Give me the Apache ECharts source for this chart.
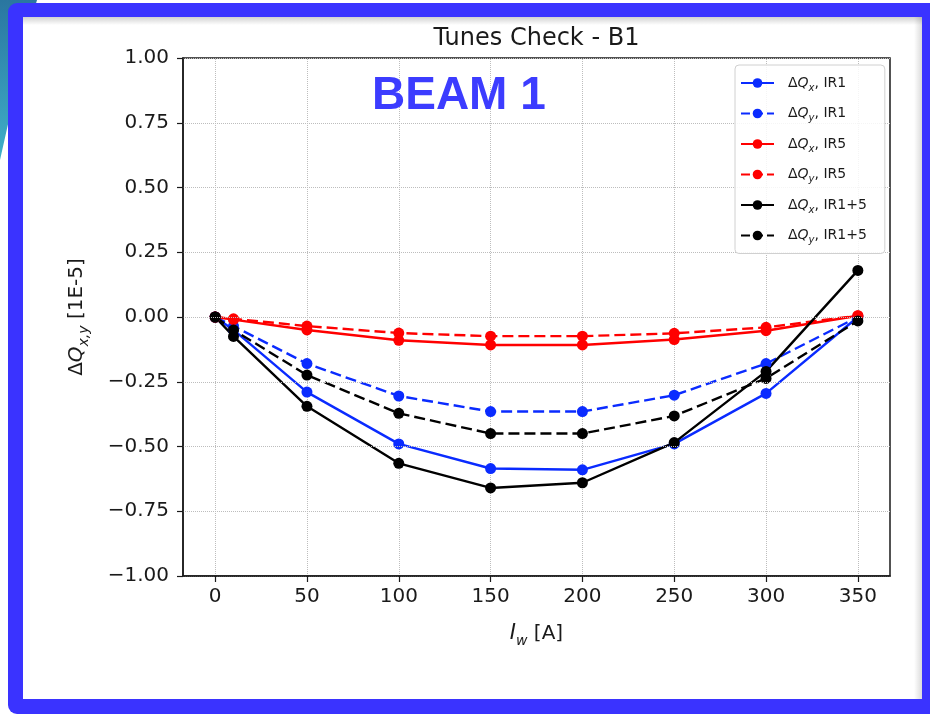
<!DOCTYPE html>
<html>
<head>
<meta charset="utf-8">
<script src="https://cdn.jsdelivr.net/npm/echarts@6/dist/echarts.min.js"></script>
<style>
html,body{margin:0;padding:0;background:#fff;}
#c{width:930px;height:715px;}
</style>
</head>
<body>
<div id="c"></div>
<script>
// ---- data ----
const currents = [0, 10, 50, 100, 150, 200, 250, 300, 350];
const dQx_IR1  = [0, -0.05, -0.29, -0.49, -0.585, -0.59, -0.49, -0.295, 0.0];
const dQy_IR1  = [0, -0.035, -0.18, -0.305, -0.365, -0.365, -0.302, -0.18, 0.0];
const dQx_IR5  = [0, -0.01, -0.05, -0.09, -0.108, -0.108, -0.087, -0.053, 0.005];
const dQy_IR5  = [0, -0.007, -0.035, -0.062, -0.074, -0.074, -0.063, -0.04, 0.005];
const dQx_IR15 = [0, -0.075, -0.345, -0.565, -0.66, -0.64, -0.485, -0.21, 0.18];
const dQy_IR15 = [0, -0.05, -0.224, -0.372, -0.45, -0.45, -0.382, -0.237, -0.015];
const xTicks = [0, 50, 100, 150, 200, 250, 300, 350];
const seriesNames = ['dQx_IR1', 'dQy_IR1', 'dQx_IR5', 'dQy_IR5', 'dQx_IR15', 'dQy_IR15'];
const dashedNames = ['dQy_IR1', 'dQy_IR5', 'dQy_IR15'];
const legendLabels = {
  dQx_IR1: ['x', ', IR1'], dQy_IR1: ['y', ', IR1'],
  dQx_IR5: ['x', ', IR5'], dQy_IR5: ['y', ', IR5'],
  dQx_IR15: ['x', ', IR1+5'], dQy_IR15: ['y', ', IR1+5']
};

const FONT = '"DejaVu Sans", sans-serif';
const FRAME = '#3a33ff';
const INK = '#1a1a1a';

function pairs(ys) { return currents.map((x, i) => [x, ys[i]]); }

function mkSeries(name, ys, color, dashed) {
  return {
    name: name, type: 'line', data: pairs(ys), z: 5,
    symbol: 'circle', symbolSize: 11, showSymbol: true,
    lineStyle: { color: color, width: 2.4, type: dashed ? [11, 5] : 'solid' },
    itemStyle: { color: color },
    emphasis: { disabled: true },
    animation: false
  };
}

const chart = echarts.init(document.getElementById('c'), null, { renderer: 'canvas' });

const option = {
  animation: false,
  graphic: [
    { type: 'polygon', z: -10, shape: { points: [[0,0],[37,0],[32,17],[0,160]] },
      style: { fill: new echarts.graphic.LinearGradient(0,0,0,1,[{offset:0,color:'#2a76a0'},{offset:1,color:'#3fb0c8'}]) } },
    { type: 'rect', z: -9, shape: { x: 8, y: 3, width: 940, height: 711, r: 9 }, style: { fill: FRAME } },
    { type: 'rect', z: -8, shape: { x: 23, y: 17, width: 899, height: 682 }, style: { fill: '#ffffff' } },
    { type: 'rect', z: -7, shape: { x: 23, y: 17, width: 899, height: 8 },
      style: { fill: new echarts.graphic.LinearGradient(0,0,0,1,[{offset:0,color:'rgba(0,0,0,0.18)'},{offset:1,color:'rgba(0,0,0,0)'}]) } },
    { type: 'rect', z: -7, shape: { x: 914, y: 17, width: 8, height: 682 },
      style: { fill: new echarts.graphic.LinearGradient(0,0,1,0,[{offset:0,color:'rgba(0,0,0,0)'},{offset:1,color:'rgba(0,0,0,0.14)'}]) } },
    { type: 'text', z: 50, x: 536.5, y: 38.5,
      style: { text: 'Tunes Check - B1', font: '24px ' + FONT, fill: INK, align: 'center', verticalAlign: 'middle' } },
    { type: 'text', z: 100, x: 372, y: 96.5,
      style: { text: 'BEAM 1', font: 'bold 46px "Liberation Sans", Arial, sans-serif', fill: '#3c3cff', align: 'left', verticalAlign: 'middle' } }
  ],
  grid: {
    left: 183, top: 58, width: 707, height: 518, z: 10,
    show: true, borderColor: INK, borderWidth: 1.5, backgroundColor: 'transparent'
  },
  legend: {
    orient: 'vertical', left: 735, top: 65, z: 20,
    data: seriesNames.map(n => dashedNames.indexOf(n) >= 0
      ? { name: n, lineStyle: { type: [9, 4] } }
      : { name: n }),
    itemWidth: 33, itemHeight: 12, itemGap: 10.5,
    padding: [8, 18, 8, 5],
    backgroundColor: 'rgba(255,255,255,0.85)',
    borderColor: '#d0d0d0', borderWidth: 1, borderRadius: 4,
    selectedMode: false,
    formatter: function (n) {
      const l = legendLabels[n];
      return '{m|\u0394}{q|Q}{s|' + l[0] + '}{t|' + l[1] + '}';
    },
    textStyle: {
      fontFamily: FONT, color: INK, fontSize: 14, lineHeight: 20,
      rich: {
        m: { fontFamily: FONT, fontSize: 14, color: INK, padding: [0, 0, 0, 9], verticalAlign: 'middle', lineHeight: 20 },
        q: { fontFamily: FONT, fontSize: 14, color: INK, fontStyle: 'italic', verticalAlign: 'middle', lineHeight: 20 },
        s: { fontFamily: FONT, fontSize: 10, color: INK, fontStyle: 'italic', verticalAlign: 'bottom', lineHeight: 20 },
        t: { fontFamily: FONT, fontSize: 14, color: INK, verticalAlign: 'middle', lineHeight: 20 }
      }
    }
  },
  xAxis: {
    type: 'value', min: -17.5, max: 367.5, z: 10,
    name: '{i|I}{s|w}{n| [A]}', nameLocation: 'middle', nameGap: 44,
    nameTextStyle: {
      rich: {
        i: { fontFamily: FONT, fontSize: 21, fontStyle: 'italic', color: INK, verticalAlign: 'middle', lineHeight: 28 },
        s: { fontFamily: FONT, fontSize: 14, fontStyle: 'italic', color: INK, verticalAlign: 'bottom', lineHeight: 28 },
        n: { fontFamily: FONT, fontSize: 20, color: INK, verticalAlign: 'middle', lineHeight: 28 }
      }
    },
    axisLine: { show: true, onZero: false, lineStyle: { color: INK, width: 1.5 } },
    axisTick: { show: true, inside: false, length: 6, customValues: xTicks, lineStyle: { color: INK, width: 1.2 } },
    axisLabel: { customValues: xTicks, fontFamily: FONT, fontSize: 20, color: INK, margin: 11 },
    splitLine: { show: false }
  },
  yAxis: {
    type: 'value', min: -1, max: 1, interval: 0.25, z: 10,
    name: '{d|\u0394}{q|Q}{s|x,y}{n| [1E-5]}', nameLocation: 'middle', nameRotate: 90, nameGap: 92,
    nameTextStyle: {
      rich: {
        d: { fontFamily: FONT, fontSize: 20, color: INK, verticalAlign: 'middle', lineHeight: 28 },
        q: { fontFamily: FONT, fontSize: 20, fontStyle: 'italic', color: INK, verticalAlign: 'middle', lineHeight: 28 },
        s: { fontFamily: FONT, fontSize: 14, fontStyle: 'italic', color: INK, verticalAlign: 'bottom', lineHeight: 28 },
        n: { fontFamily: FONT, fontSize: 20, color: INK, verticalAlign: 'middle', lineHeight: 28 }
      }
    },
    axisLine: { show: true, onZero: false, lineStyle: { color: INK, width: 1.5 } },
    axisTick: { show: true, inside: false, length: 6, lineStyle: { color: INK, width: 1.2 } },
    axisLabel: {
      fontFamily: FONT, fontSize: 20, color: INK, margin: 14,
      formatter: function (v) { return v.toFixed(2).replace('-', '\u2212'); }
    },
    splitLine: { show: true, lineStyle: { type: 'dotted', color: '#bdbdbd', width: 1 } }
  },
  series: [
    {
      name: 'gridlines', type: 'line', data: [], z: 1, silent: true,
      markLine: {
        silent: true, symbol: 'none', animation: false,
        label: { show: false },
        lineStyle: { type: 'dotted', color: '#bdbdbd', width: 1 },
        emphasis: { disabled: true },
        data: xTicks.map(v => ({ xAxis: v }))
      }
    },
    mkSeries('dQx_IR1', dQx_IR1, '#0a2bff', false),
    mkSeries('dQy_IR1', dQy_IR1, '#0a2bff', true),
    mkSeries('dQx_IR5', dQx_IR5, '#ff0000', false),
    mkSeries('dQy_IR5', dQy_IR5, '#ff0000', true),
    mkSeries('dQx_IR15', dQx_IR15, '#000000', false),
    mkSeries('dQy_IR15', dQy_IR15, '#000000', true)
  ]
};
chart.setOption(option);
</script>
</body>
</html>
